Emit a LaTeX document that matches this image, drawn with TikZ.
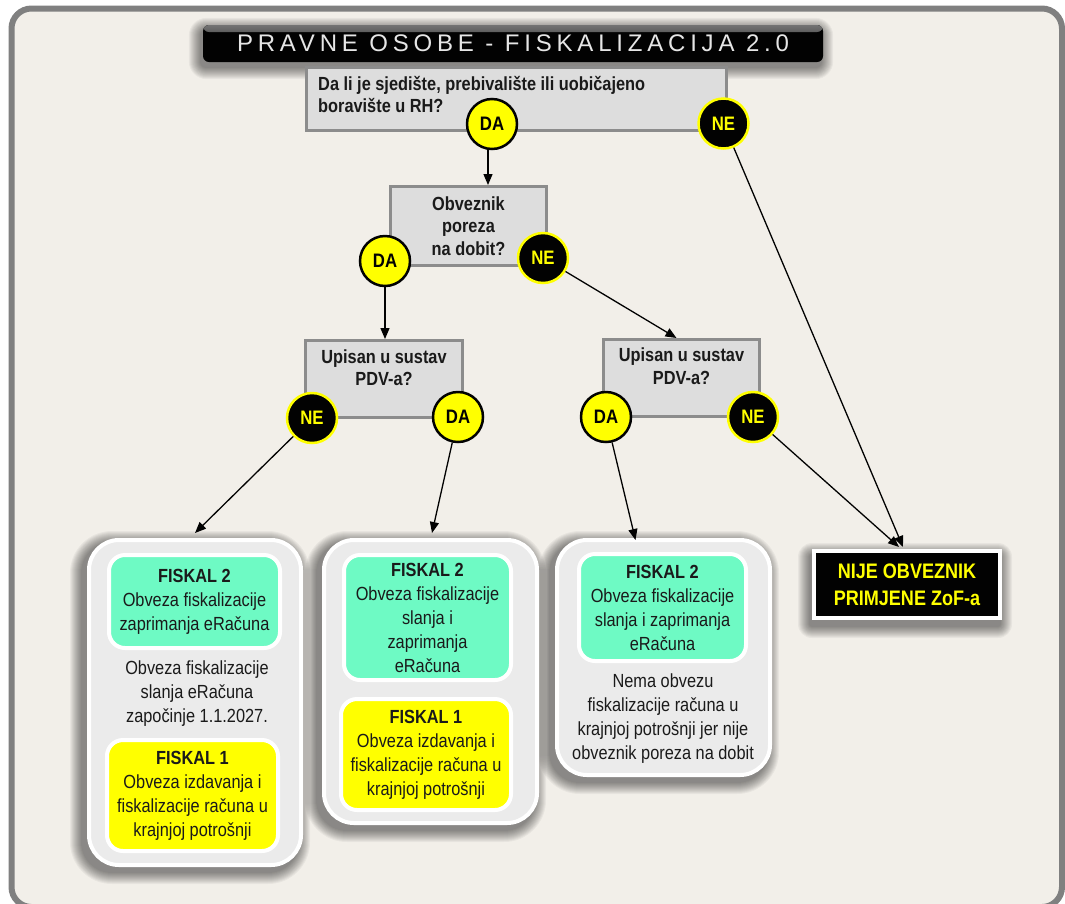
\documentclass[tikz,border=0pt]{standalone}
\usepackage{fontspec}
\setmainfont{Liberation Sans}[FakeStretch=0.86]
\newfontfamily\titlefont{Liberation Sans}[LetterSpace=20]
\usetikzlibrary{arrows.meta,backgrounds}
\definecolor{bgc}{HTML}{F2EFE9}
\definecolor{framegray}{HTML}{808080}
\definecolor{qfill}{HTML}{DDDDDD}
\definecolor{qdraw}{HTML}{8C8C8C}
\definecolor{fgreen}{HTML}{6EFAC4}
\definecolor{fyellow}{HTML}{FFFF00}
\definecolor{groupfill}{HTML}{EBEBEB}
\definecolor{titletext}{HTML}{E6E6E6}
\definecolor{txt}{HTML}{1A1A1A}
\definecolor{cblack}{RGB}{2,2,2}
\newcommand\softshadow[4]{%
  \begin{scope}[on background layer]
    \foreach \k in {1,...,12}{
      \fill[cblack, opacity=0.045, rounded corners={(#2+\k)*1pt}]
        ([shift={(-\k+#3,-\k+#4)}]#1.north west) rectangle ([shift={(\k+#3,\k+#4)}]#1.south east);
    }
  \end{scope}}
\tikzset{
  qbox/.style={draw=qdraw, line width=3pt, fill=qfill, inner sep=0pt},
  qtext/.style={font=\bfseries\fontsize{19}{22.5}\selectfont, align=center, inner sep=0pt, text=txt},
  dacirc/.style={circle, minimum size=50pt, fill=fyellow, draw=cblack, line width=2.5pt, inner sep=0pt,
    font=\bfseries\fontsize{19.5}{20}\selectfont, text=cblack},
  necirc/.style={dacirc, fill=cblack, draw=fyellow, text=fyellow},
  groupbox/.style={rounded corners=30pt, fill=groupfill, draw=white, line width=4pt, inner sep=0pt},
  fiskal/.style={rounded corners=16pt, draw=white, line width=4pt, inner sep=0pt,
    font=\fontsize{19}{24}\selectfont, align=center, text=txt},
  body/.style={font=\fontsize{19}{24}\selectfont, align=center, inner sep=0pt, text=txt},
  conn/.style={draw=cblack, line width=1.3pt, -{Triangle[length=11pt,width=9pt]}},
}
\begin{document}
\begin{tikzpicture}[x=1pt,y=-1pt]
\useasboundingbox (0,0) rectangle (1065,903);
\begin{scope}[on background layer]
  \fill[white] (0,0) rectangle (1065,903);
  \draw[framegray, fill=bgc, line width=6pt, rounded corners=20pt] (11.5,8.5) rectangle (1062,907);
\end{scope}

% title
\node[fill=cblack, rounded corners=6pt, minimum width=620pt, minimum height=37pt, inner sep=0pt,
      path picture={\shade[top color=black!55, bottom color=cblack]
        (path picture bounding box.north west) rectangle ([yshift=-7pt]path picture bounding box.north east);},
      text=titletext, font=\titlefont\fontsize{24}{24}\selectfont] (title) at (513,43.5)
      {PRAVNE OSOBE - FISKALIZACIJA 2.0};
\softshadow{title}{6}{-2}{5}

% decision boxes
\node[qbox, minimum width=420pt, minimum height=63pt] (q1) at (516.5,98.5) {};
\node[qtext, align=left, anchor=west] (q1t) at (318,94.5)
  {Da li je sjedište, prebivalište ili uobičajeno\\boravište u RH?};
\node[qbox, qtext, minimum width=156pt, minimum height=79pt] (q2) at (468.5,226)
  {Obveznik\\poreza\\na dobit?};
\node[qbox, minimum width=157pt, minimum height=77pt] (q3) at (384,379) {};
\node[qtext] (q3t) at (384,367.5) {Upisan u sustav\\PDV-a?};
\node[qbox, minimum width=156pt, minimum height=77pt] (q4) at (681.5,378) {};
\node[qtext] (q4t) at (681.5,366) {Upisan u sustav\\PDV-a?};

% circles
\node[dacirc] (da1) at (492,124) {DA};
\node[necirc] (ne1) at (723.5,123.5) {NE};
\node[dacirc] (da2) at (385,261) {DA};
\node[necirc] (ne2) at (543,258) {NE};
\node[necirc] (ne3) at (312,418) {NE};
\node[dacirc] (da3) at (458,417) {DA};
\node[dacirc] (da4) at (606,417) {DA};
\node[necirc] (ne4) at (753,417) {NE};

% result groups
\node[groupbox, minimum width=212pt, minimum height=325pt] (g1) at (195,702.5) {};
\softshadow{g1}{30}{-5}{5}
\node[fiskal, fill=fgreen, minimum width=171pt, minimum height=93pt] (f2a) at (194.5,601.5)
  {\textbf{FISKAL 2}\\Obveza fiskalizacije\\zaprimanja eRačuna};
\node[body] (m1) at (197,694) {Obveza fiskalizacije\\slanja eRačuna\\započinje 1.1.2027.};
\node[fiskal, fill=fyellow, minimum width=171pt, minimum height=111pt] (f1a) at (192.5,795.5)
  {\textbf{FISKAL 1}\\Obveza izdavanja i\\fiskalizacije računa u\\krajnjoj potrošnji};

\node[groupbox, minimum width=213pt, minimum height=283pt] (g2) at (430.5,681.5) {};
\softshadow{g2}{30}{-5}{5}
\node[fiskal, fill=fgreen, minimum width=167pt, minimum height=125pt] (f2b) at (427.5,617.5)
  {\textbf{FISKAL 2}\\Obveza fiskalizacije\\slanja i\\zaprimanja\\eRačuna};
\node[fiskal, fill=fyellow, minimum width=170pt, minimum height=111pt] (f1b) at (426,754.5)
  {\textbf{FISKAL 1}\\Obveza izdavanja i\\fiskalizacije računa u\\krajnjoj potrošnji};

\node[groupbox, minimum width=213pt, minimum height=235pt] (g3) at (663.5,657.5) {};
\softshadow{g3}{30}{-5}{5}
\node[fiskal, fill=fgreen, minimum width=167pt, minimum height=107pt] (f2c) at (662.5,607.5)
  {\textbf{FISKAL 2}\\Obveza fiskalizacije\\slanja i zaprimanja\\eRačuna};
\node[body] (n3) at (663,719)
  {Nema obvezu\\fiskalizacije računa u\\krajnjoj potrošnji jer nije\\obveznik poreza na dobit};

\node[fill=cblack, draw=white, line width=4pt, minimum width=186pt, minimum height=67pt, inner sep=0pt,
      text=fyellow, align=center, font=\bfseries\fontsize{21}{27}\selectfont] (nije) at (907,584.5)
  {NIJE OBVEZNIK\\PRIMJENE ZoF-a};
\softshadow{nije}{2}{-2}{6}

% connectors
\coordinate (t1) at ([xshift=-4pt,yshift=2pt]nije.north);
\coordinate (t2) at ([xshift=-8pt,yshift=2pt]nije.north);
\draw[conn] ([xshift=-4pt]da1.south) -- ([xshift=-4pt]da1.south |- q2.north);
\draw[conn] (ne1) -- (t1);
\draw[conn] (da2) -- (da2 |- q3.north);
\draw[conn] (ne2) -- ([xshift=-5pt]q4.north);
\draw[conn] (ne3) -- ([yshift=5pt]g1.north);
\draw[conn] (da3) -- ([xshift=1.5pt,yshift=5pt]g2.north);
\draw[conn] (da4) -- ([xshift=-28pt,yshift=-2pt]g3.north);
\draw[conn] (ne4) -- (t2);
\end{tikzpicture}
\end{document}
